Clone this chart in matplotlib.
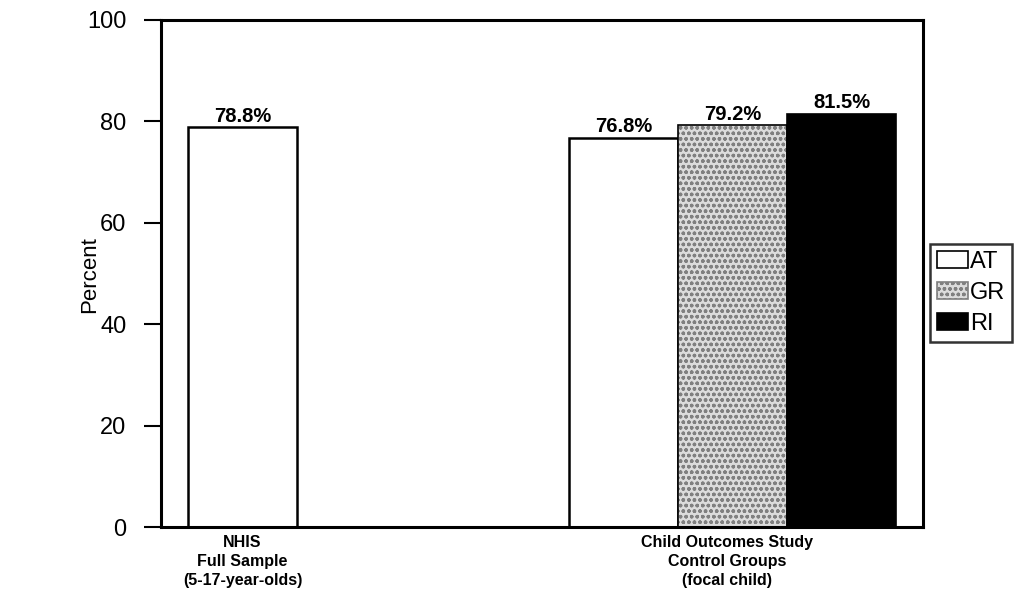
import numpy as np
import matplotlib
matplotlib.use('Agg')
import matplotlib.pyplot as plt
from matplotlib.patches import Patch

plt.rcParams['font.family'] = ['Liberation Sans', 'DejaVu Sans']

categories = ['NHIS\nFull Sample\n(5-17-year-olds)',
              'Child Outcomes Study\nControl Groups\n(focal child)']
series_names = ['AT', 'GR', 'RI']
at_vals = [78.8, 76.8]
gr_vals = [np.nan, 79.2]
ri_vals = [np.nan, 81.5]
y_ticks = [0, 20, 40, 60, 80, 100]

fig = plt.figure(figsize=(10.23, 6.02), dpi=100)
ax = fig.add_axes([161 / 1023, 1 - 527 / 602, 762 / 1023, 507 / 602])

x = np.arange(len(categories))
w = 0.286

# AT (white), GR (stippled grey), RI (black)
b_at = ax.bar(x - w, at_vals, w, color='white', edgecolor='black', linewidth=1.8, zorder=2)
ax.bar(x, gr_vals, w, color='#dcdcdc', edgecolor='#808080', hatch='ooo', linewidth=0, zorder=2)
b_gr = ax.bar(x, gr_vals, w, fill=False, edgecolor='black', linewidth=1.2, zorder=3)
b_ri = ax.bar(x + w, ri_vals, w, color='black', edgecolor='black', linewidth=1.2, zorder=2)

for bars, vals in [(b_at, at_vals), (b_gr, gr_vals), (b_ri, ri_vals)]:
    labels = ['' if np.isnan(v) else '%.1f%%' % v for v in vals]
    ax.bar_label(bars, labels=labels, padding=1, fontsize=14.5, fontweight='bold')

ax.set_xlim(-0.5, 1.5)
ax.set_ylim(0, 100)
ax.set_yticks(y_ticks)
ax.tick_params(axis='y', labelsize=17, length=12, width=1.5, pad=13, direction='out')

# category labels, first one sits under the single NHIS bar
ax.set_xticks([x[0] - w, x[1] - 0.015])
ax.set_xticklabels(categories, fontsize=11.5, fontweight='bold', linespacing=1.3)
ax.tick_params(axis='x', length=0, pad=6)

for s in ax.spines.values():
    s.set_linewidth(2.2)

ax.set_ylabel('Percent', fontsize=16)
ax.yaxis.set_label_coords(-0.08, 0.497)

handles = [Patch(facecolor='white', edgecolor='black', linewidth=1.2),
           Patch(facecolor='#dcdcdc', edgecolor='#808080', hatch='ooo', linewidth=1.2),
           Patch(facecolor='black', edgecolor='black', linewidth=1.2)]
leg = fig.legend(handles, series_names, loc='upper left',
                 bbox_to_anchor=(930 / 1023, 1 - 244 / 602), fontsize=17,
                 frameon=True, fancybox=False, edgecolor='black',
                 handlelength=1.3, handleheight=0.75, handletextpad=0.1,
                 borderpad=0.3, labelspacing=0.38, borderaxespad=0)
leg.get_frame().set_linewidth(1.8)

fig.savefig('out.png', dpi=100)
